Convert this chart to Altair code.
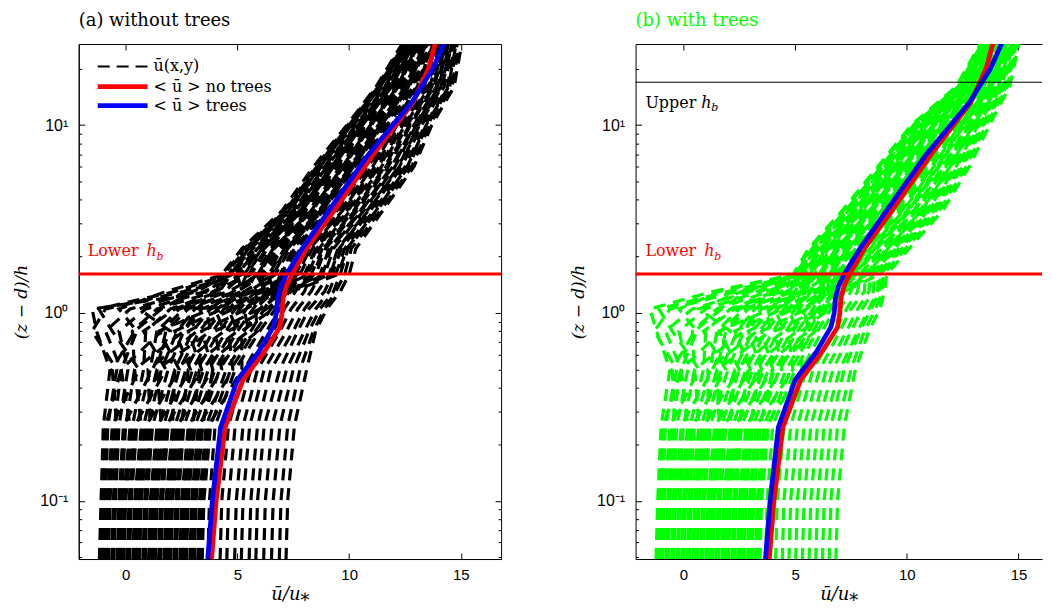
import altair as alt
import pandas as pd

# ---------------- data ----------------
Z_LEVELS = [0.038, 0.1, 0.25, 0.5, 0.8, 1.05, 1.3, 1.6, 2.2, 3.5, 6, 10, 16, 30]

PROFILES_A = [
    [-1.2, -1.1, -1.0, -0.7, -1.3, -1.5, 3.8, 4.3, 5.2, 7.0, 8.4, 9.9, 11.2, 12.6],
    [-1.0, -0.9, -0.8, -0.4, -1.5, -0.9, 2.6, 4.8, 5.7, 7.5, 8.9, 10.3, 11.6, 12.9],
    [-0.8, -0.7, -0.5, -0.2, -0.9, 0.2, 3.2, 4.5, 5.35, 7.15, 8.55, 10.0, 11.3, 12.7],
    [-0.55, -0.45, -0.3, 0.1, -0.3, 0.9, 3.6, 5.2, 6.05, 7.75, 9.15, 10.5, 11.8, 13.0],
    [-0.3, -0.2, 0.0, 0.4, 0.3, 1.4, 4.0, 5.6, 6.35, 8.05, 9.45, 10.75, 12.0, 13.15],
    [-0.1, 0.0, 0.3, 0.8, 0.9, 2.0, 4.2, 4.7, 5.5, 7.3, 8.7, 10.1, 11.4, 12.8],
    [0.15, 0.25, 0.5, 1.1, 1.4, 2.4, 4.6, 5.95, 6.65, 8.35, 9.75, 11.0, 12.2, 13.3],
    [0.4, 0.5, 0.8, 1.4, 1.8, 2.8, 4.9, 6.3, 7.0, 8.6, 10.0, 11.25, 12.45, 13.5],
    [0.6, 0.7, 1.0, 1.6, 2.3, 3.1, 5.2, 5.0, 5.9, 7.6, 9.0, 10.4, 11.7, 12.9],
    [0.85, 0.95, 1.2, 1.9, 2.6, 3.4, 5.5, 6.7, 7.35, 8.85, 10.25, 11.5, 12.7, 13.65],
    [1.1, 1.2, 1.5, 2.2, 3.0, 3.8, 5.7, 7.05, 7.65, 9.15, 10.55, 11.75, 12.9, 13.8],
    [1.3, 1.4, 1.7, 2.4, 3.3, 4.1, 5.1, 5.4, 6.2, 7.9, 9.3, 10.6, 11.9, 13.1],
    [1.55, 1.65, 1.9, 2.7, 3.6, 4.4, 6.0, 7.4, 8.0, 9.45, 10.85, 12.0, 13.1, 13.95],
    [1.8, 1.9, 2.2, 3.0, 3.9, 4.6, 5.4, 5.8, 6.5, 8.2, 9.6, 10.9, 12.1, 13.2],
    [2.0, 2.1, 2.4, 3.2, 4.2, 4.9, 6.3, 7.8, 8.35, 9.75, 11.15, 12.25, 13.35, 14.1],
    [2.25, 2.35, 2.6, 3.5, 4.5, 5.1, 5.8, 6.1, 6.8, 8.5, 9.9, 11.1, 12.3, 13.4],
    [2.5, 2.6, 2.9, 3.7, 4.8, 5.4, 6.6, 8.15, 8.65, 10.05, 11.45, 12.5, 13.6, 14.3],
    [2.7, 2.8, 3.1, 4.0, 5.0, 5.7, 6.3, 6.5, 7.2, 8.7, 10.1, 11.4, 12.6, 13.6],
    [2.95, 3.05, 3.35, 4.2, 5.3, 6.0, 6.9, 8.5, 8.95, 10.35, 11.75, 12.75, 13.8, 14.45],
    [3.2, 3.3, 3.6, 4.5, 5.6, 6.2, 6.7, 6.9, 7.5, 9.0, 10.4, 11.6, 12.8, 13.7],
    [3.4, 3.5, 3.8, 4.7, 5.8, 6.5, 7.2, 8.9, 9.3, 10.65, 12.05, 13.0, 14.0, 14.6],
    [3.65, 3.75, 4.0, 4.9, 6.0, 6.7, 7.0, 7.2, 7.8, 9.3, 10.7, 11.9, 13.0, 13.9],
    [4.2, 4.3, 4.6, 5.3, 6.3, 6.9, 7.3, 7.6, 8.2, 9.6, 11.0, 12.1, 13.2, 14.0],
    [4.5, 4.6, 4.9, 5.6, 6.6, 7.1, 7.6, 8.0, 8.5, 9.9, 11.3, 12.4, 13.5, 14.2],
    [4.85, 4.95, 5.25, 5.9, 6.9, 7.4, 8.0, 8.3, 8.8, 10.2, 11.6, 12.6, 13.7, 14.4],
    [5.15, 5.25, 5.55, 6.2, 7.2, 7.7, 8.3, 8.7, 9.1, 10.5, 11.9, 12.9, 13.9, 14.5],
    [5.5, 5.6, 5.9, 6.5, 7.5, 8.0, 8.6, 9.1, 9.5, 10.8, 12.2, 13.1, 14.1, 14.7],
    [5.8, 5.9, 6.2, 6.9, 7.7, 8.2, 8.9, 9.25, 9.65, 10.95, 12.35, 13.25, 14.25, 14.75],
    [6.15, 6.25, 6.55, 7.2, 8.0, 8.5, 9.1, 9.4, 9.8, 11.1, 12.5, 13.4, 14.4, 14.8],
    [6.5, 6.6, 6.9, 7.5, 8.2, 8.7, 9.3, 9.6, 9.95, 11.25, 12.65, 13.5, 14.5, 14.9],
    [6.85, 6.95, 7.25, 7.8, 8.4, 8.9, 9.4, 9.8, 10.1, 11.4, 12.8, 13.6, 14.6, 15.0],
    [7.15, 7.25, 7.55, 8.1, 8.5, 9.0, 9.6, 10.0, 10.3, 11.5, 12.9, 13.7, 14.7, 15.1],
    [-1.1, -1.0, -0.9, -0.2, 0.5, -0.3, 1.8, 4.4, 5.3, 7.1, 8.5, 9.95, 11.25, 12.65],
    [-0.9, -0.8, -0.6, 0.6, -0.6, -1.2, 2.2, 4.6, 5.45, 7.2, 8.6, 10.05, 11.35, 12.75],
    [-0.65, -0.55, -0.4, -0.6, 0.4, 1.6, 3.0, 4.75, 5.6, 7.35, 8.75, 10.2, 11.5, 12.8],
    [-0.4, -0.3, -0.1, 1.2, 2.0, 0.6, 2.8, 4.95, 5.8, 7.5, 8.9, 10.35, 11.6, 12.9],
    [-0.2, -0.1, 0.2, -0.2, 1.6, 2.6, 3.5, 5.1, 5.95, 7.65, 9.05, 10.45, 11.75, 13.0],
    [0.05, 0.15, 0.4, 1.8, 0.8, 2.2, 4.4, 5.3, 6.1, 7.8, 9.2, 10.55, 11.85, 13.05],
    [0.3, 0.4, 0.7, 0.4, 2.6, 3.2, 3.9, 5.5, 6.3, 7.95, 9.35, 10.7, 11.95, 13.1],
    [0.5, 0.6, 0.9, 2.4, 1.5, 3.8, 4.8, 5.9, 6.6, 8.3, 9.7, 10.95, 12.15, 13.25],
    [0.75, 0.85, 1.1, 1.0, 3.2, 2.6, 5.0, 6.2, 6.9, 8.55, 9.95, 11.2, 12.4, 13.45],
    [1.0, 1.1, 1.4, 2.9, 2.2, 4.3, 5.3, 6.6, 7.25, 8.8, 10.2, 11.45, 12.65, 13.6],
    [1.2, 1.3, 1.6, 1.4, 3.8, 3.6, 5.6, 6.95, 7.55, 9.1, 10.5, 11.7, 12.85, 13.75],
    [1.45, 1.55, 1.8, 3.4, 2.8, 4.8, 5.9, 7.3, 7.9, 9.4, 10.8, 11.95, 13.05, 13.9],
    [1.7, 1.8, 2.1, 2.2, 4.4, 4.0, 6.2, 7.7, 8.25, 9.7, 11.05, 12.15, 13.3, 14.05],
    [1.9, 2.0, 2.3, 3.9, 3.4, 5.4, 6.5, 8.05, 8.55, 9.95, 11.35, 12.45, 13.55, 14.25],
    [2.15, 2.25, 2.5, 2.8, 5.0, 4.6, 6.8, 8.4, 8.85, 10.25, 11.65, 12.7, 13.75, 14.4],
    [2.4, 2.5, 2.8, 4.3, 4.0, 6.0, 7.1, 8.8, 9.2, 10.55, 11.95, 12.95, 13.95, 14.55],
    [2.6, 2.7, 3.0, 3.3, 5.5, 5.3, 6.4, 6.05, 6.75, 8.4, 9.8, 11.05, 12.25, 13.35],
    [2.85, 2.95, 3.25, 4.8, 4.6, 6.3, 7.3, 9.15, 9.55, 10.85, 12.25, 13.15, 14.15, 14.7],
    [3.05, 3.15, 3.45, 3.9, 5.9, 5.8, 6.6, 6.4, 7.1, 8.65, 10.05, 11.3, 12.5, 13.55],
    [3.3, 3.4, 3.7, 5.2, 5.2, 6.6, 7.4, 9.5, 9.9, 11.2, 12.6, 13.45, 14.45, 14.85],
]

PROFILES_B = [
    [-1.25, -1.15, -1.0, -0.6, -1.2, -1.5, 1.3, 4.9, 5.6, 7.1, 8.7, 10.2, 12.2, 13.5],
    [-1.05, -0.95, -0.8, -0.3, -1.3, -0.6, 2.4, 5.3, 6.05, 7.55, 9.1, 10.55, 12.45, 13.65],
    [-0.8, -0.7, -0.5, -0.1, -0.8, 0.4, 3.0, 5.0, 5.75, 7.25, 8.85, 10.3, 12.3, 13.55],
    [-0.55, -0.45, -0.3, 0.2, -0.2, 1.0, 3.4, 5.6, 6.35, 7.85, 9.35, 10.75, 12.6, 13.75],
    [-0.3, -0.2, 0.0, 0.5, 0.4, 1.5, 3.8, 5.85, 6.6, 8.1, 9.6, 11.0, 12.75, 13.85],
    [-0.1, 0.0, 0.3, 0.9, 1.0, 2.1, 4.1, 5.2, 5.9, 7.4, 9.0, 10.4, 12.35, 13.6],
    [0.15, 0.25, 0.5, 1.2, 1.5, 2.5, 4.4, 6.1, 6.9, 8.4, 9.9, 11.2, 12.9, 13.95],
    [0.4, 0.5, 0.8, 1.5, 1.9, 2.9, 4.7, 6.4, 7.2, 8.7, 10.15, 11.45, 13.05, 14.05],
    [0.6, 0.7, 1.0, 1.7, 2.4, 3.2, 5.0, 5.45, 6.2, 7.7, 9.25, 10.65, 12.5, 13.7],
    [0.85, 0.95, 1.2, 2.0, 2.7, 3.5, 5.3, 6.65, 7.5, 9.0, 10.4, 11.7, 13.2, 14.15],
    [1.1, 1.2, 1.5, 2.3, 3.1, 3.9, 5.6, 6.95, 7.8, 9.3, 10.7, 11.9, 13.35, 14.25],
    [1.3, 1.4, 1.7, 2.5, 3.4, 4.2, 5.0, 5.7, 6.5, 8.0, 9.5, 10.9, 12.65, 13.8],
    [1.55, 1.65, 1.9, 2.8, 3.7, 4.5, 5.9, 7.2, 8.05, 9.55, 10.95, 12.1, 13.5, 14.4],
    [1.8, 1.9, 2.2, 3.1, 4.0, 4.7, 5.3, 6.0, 6.75, 8.25, 9.75, 11.1, 12.8, 13.9],
    [2.0, 2.1, 2.4, 3.3, 4.3, 5.0, 6.2, 7.45, 8.35, 9.85, 11.2, 12.35, 13.65, 14.5],
    [2.25, 2.35, 2.6, 3.6, 4.6, 5.2, 5.7, 6.25, 7.05, 8.55, 10.0, 11.35, 12.95, 14.0],
    [2.5, 2.6, 2.9, 3.8, 4.9, 5.5, 6.5, 7.75, 8.65, 10.15, 11.45, 12.55, 13.8, 14.6],
    [2.7, 2.8, 3.1, 4.1, 5.1, 5.8, 6.2, 6.5, 7.35, 8.85, 10.3, 11.55, 13.1, 14.1],
    [2.95, 3.05, 3.35, 4.3, 5.4, 6.0, 6.8, 8.0, 8.95, 10.45, 11.75, 12.8, 13.95, 14.7],
    [3.2, 3.3, 3.6, 4.6, 5.6, 6.2, 6.6, 6.8, 7.65, 9.15, 10.55, 11.8, 13.3, 14.2],
    [3.4, 3.5, 3.8, 4.8, 5.8, 6.4, 7.1, 8.3, 9.25, 10.75, 12.0, 13.0, 14.1, 14.8],
    [3.65, 3.75, 4.0, 5.0, 6.0, 6.6, 6.9, 7.05, 7.9, 9.4, 10.8, 12.0, 13.45, 14.3],
    [4.1, 4.2, 4.5, 5.3, 6.2, 6.8, 7.2, 7.35, 8.2, 9.7, 11.1, 12.25, 13.6, 14.45],
    [4.4, 4.5, 4.8, 5.5, 6.5, 7.0, 7.5, 7.6, 8.5, 10.0, 11.35, 12.45, 13.75, 14.55],
    [4.7, 4.8, 5.1, 5.8, 6.8, 7.3, 7.8, 7.9, 8.8, 10.3, 11.6, 12.7, 13.9, 14.65],
    [5.0, 5.1, 5.4, 6.1, 7.0, 7.5, 8.1, 8.15, 9.1, 10.6, 11.85, 12.9, 14.05, 14.75],
    [5.3, 5.4, 5.7, 6.4, 7.3, 7.8, 8.3, 8.4, 9.4, 10.9, 12.15, 13.1, 14.2, 14.85],
    [5.6, 5.7, 6.0, 6.7, 7.5, 8.0, 8.5, 8.55, 9.5, 11.0, 12.25, 13.25, 14.3, 14.9],
    [5.9, 6.0, 6.3, 7.0, 7.8, 8.3, 8.7, 8.7, 9.65, 11.15, 12.4, 13.35, 14.35, 14.95],
    [6.2, 6.3, 6.6, 7.2, 7.9, 8.4, 8.8, 8.8, 9.8, 11.3, 12.5, 13.45, 14.45, 15.0],
    [6.5, 6.6, 6.9, 7.5, 8.1, 8.6, 8.9, 8.95, 9.95, 11.45, 12.65, 13.55, 14.5, 15.05],
    [6.8, 6.9, 7.2, 7.7, 8.3, 8.8, 9.0, 9.1, 10.1, 11.6, 12.8, 13.7, 14.6, 15.1],
    [-1.15, -1.05, -0.9, -0.1, 0.6, -0.2, 1.6, 4.97, 5.67, 7.17, 8.77, 10.26, 12.24, 13.53],
    [-0.95, -0.85, -0.6, 0.7, -0.5, -1.1, 2.0, 5.1, 5.82, 7.32, 8.9, 10.37, 12.32, 13.58],
    [-0.7, -0.6, -0.4, -0.5, 0.5, 1.7, 2.8, 5.24, 5.96, 7.46, 9.03, 10.48, 12.39, 13.63],
    [-0.45, -0.35, -0.1, 1.3, 2.1, 0.7, 2.6, 5.37, 6.11, 7.61, 9.16, 10.6, 12.47, 13.68],
    [-0.25, -0.15, 0.2, -0.1, 1.7, 2.7, 3.3, 5.51, 6.25, 7.75, 9.29, 10.71, 12.55, 13.73],
    [0.0, 0.1, 0.4, 1.9, 0.9, 2.3, 4.2, 5.64, 6.4, 7.9, 9.43, 10.82, 12.62, 13.79],
    [0.25, 0.35, 0.7, 0.5, 2.7, 3.3, 3.7, 5.78, 6.54, 8.04, 9.56, 10.93, 12.7, 13.84],
    [0.5, 0.6, 0.9, 2.5, 1.6, 3.9, 4.6, 6.05, 6.83, 8.33, 9.82, 11.16, 12.85, 13.94],
    [0.75, 0.85, 1.1, 1.1, 3.3, 2.7, 4.9, 6.32, 7.12, 8.62, 10.09, 11.39, 13.01, 14.05],
    [1.0, 1.1, 1.4, 3.0, 2.3, 4.4, 5.2, 6.59, 7.41, 8.91, 10.35, 11.61, 13.16, 14.15],
    [1.2, 1.3, 1.6, 1.5, 3.9, 3.7, 5.5, 6.86, 7.7, 9.2, 10.61, 11.84, 13.32, 14.25],
    [1.45, 1.55, 1.8, 3.5, 2.9, 4.9, 5.8, 7.13, 7.99, 9.49, 10.88, 12.06, 13.47, 14.36],
    [1.7, 1.8, 2.1, 2.3, 4.5, 4.1, 6.1, 7.4, 8.28, 9.78, 11.14, 12.29, 13.62, 14.46],
    [1.9, 2.0, 2.3, 4.0, 3.5, 5.5, 6.4, 7.67, 8.57, 10.07, 11.41, 12.52, 13.78, 14.57],
    [2.15, 2.25, 2.5, 2.9, 5.1, 4.7, 6.6, 7.94, 8.86, 10.36, 11.67, 12.74, 13.93, 14.67],
    [2.4, 2.5, 2.8, 4.4, 4.1, 6.1, 6.9, 8.21, 9.15, 10.65, 11.93, 12.97, 14.09, 14.77],
    [2.6, 2.7, 3.0, 3.4, 5.6, 5.4, 6.3, 6.18, 6.98, 8.48, 9.95, 11.27, 12.93, 13.99],
    [2.85, 2.95, 3.25, 4.9, 4.7, 6.3, 7.1, 8.48, 9.44, 10.94, 12.2, 13.19, 14.24, 14.88],
    [3.05, 3.15, 3.45, 4.0, 5.9, 5.8, 6.5, 6.45, 7.27, 8.77, 10.22, 11.5, 13.09, 14.1],
    [3.3, 3.4, 3.7, 5.3, 5.3, 6.5, 7.2, 8.75, 9.73, 11.23, 12.46, 13.42, 14.39, 14.98],
]

Z_MEAN = [0.038, 0.1, 0.246, 0.44, 0.62, 0.84, 1.0, 1.2, 1.4, 1.61, 2.2, 3.46, 6.94, 13.2, 20, 30]
U_NO_TREES = [3.77, 4.05, 4.45, 5.25, 6.2, 6.9, 7.0, 7.05, 7.2, 7.45, 8.1, 9.3, 11.07, 12.86, 13.55, 13.95]
U_TREES = [3.6, 3.88, 4.25, 5.0, 5.95, 6.6, 6.75, 6.8, 6.95, 7.2, 7.9, 9.06, 10.85, 12.8, 13.75, 14.4]

LOWER_HB = 1.61
UPPER_HB = 16.9

X_TICKS = [0, 5, 10, 15]
Y_TICKS = [0.05, 0.06, 0.07, 0.08, 0.09, 0.1, 0.2, 0.3, 0.4, 0.5, 0.6, 0.7, 0.8, 0.9,
           1, 2, 3, 4, 5, 6, 7, 8, 9, 10, 20]

LEGEND_LABELS = ["ū(x,y)", "< ū > no trees", "< ū > trees"]
LEGEND_Z = [20.5, 16.0, 12.7]
LEGEND_U0 = -1.25
LEGEND_U1 = 0.98
LEGEND_TEXT_U = 1.25

LABEL_U = -1.7
LOWER_LABEL_Z = 2.0
UPPER_LABEL_Z = 12.4

# ---------------- styling ----------------
SERIF = "DejaVu Serif"
SANS = "Liberation Sans"
GREEN = "#00ff00"
W_A, W_B, H = 424, 408, 517
XDOM_A = [-2.1, 16.8]
XDOM_B = [-2.14, 16.05]
YDOM = [0.049, 27]
DASH = [12, 8]
PROFILE_WIDTH = 3.2

MAJOR_TEST = "datum.value == 0.1 || datum.value == 1 || datum.value == 10"
LABEL_EXPR = ("datum.value == 0.1 ? '10⁻¹' : datum.value == 1 ? '10⁰' : "
              "datum.value == 10 ? '10¹' : ''")


def y_axis(major_dash, minor_dash):
    return alt.Axis(
        values=Y_TICKS, labelExpr=LABEL_EXPR, labelFont=SANS, labelFontSize=16,
        labelColor="black", labelPadding=11, labelOverlap=False, ticks=False,
        domain=True, domainColor="black", domainWidth=1,
        grid=True, gridColor="black", gridOpacity=1, gridWidth=1,
        gridDash={"condition": {"test": MAJOR_TEST, "value": major_dash}, "value": minor_dash},
        title="(z − d)/h", titleFont=SERIF, titleFontSize=17, titleFontStyle="italic",
        titleFontWeight="normal", titleColor="black", titlePadding=9,
    )


def x_axis():
    return alt.Axis(
        values=X_TICKS, format="d", labelFont=SANS, labelFontSize=15, labelColor="black",
        labelPadding=9, ticks=False, domain=True, domainColor="black", domainWidth=1,
        grid=True, gridColor="black", gridOpacity=1, gridWidth=1, gridDash=[6, H - 12],
        title="ū/u⁎", titleFont=SERIF, titleFontSize=18, titleFontStyle="italic",
        titleFontWeight="normal", titleColor="black", titlePadding=3,
    )


def profile_frame(profiles):
    rows = []
    for pid, prof in enumerate(profiles):
        for k, (z, u) in enumerate(zip(Z_LEVELS, prof)):
            rows.append({"pid": pid, "k": k, "z": z, "u": u})
    return pd.DataFrame(rows)


def mean_frame(values):
    return pd.DataFrame({"z": Z_MEAN, "u": values, "k": list(range(len(Z_MEAN)))})


def hb_labels(word, z, color, dx_h, dx_b, xenc, yenc):
    df = pd.DataFrame({"u": [LABEL_U], "z": [z]})
    base = alt.Chart(df)
    t1 = base.mark_text(text=word, align="left", baseline="alphabetic", font=SERIF,
                        fontSize=16, color=color).encode(x=xenc, y=yenc)
    t2 = base.mark_text(text="h", align="left", baseline="alphabetic", font=SERIF,
                        fontSize=16, fontStyle="italic", color=color, dx=dx_h).encode(x=xenc, y=yenc)
    t3 = base.mark_text(text="b", align="left", baseline="alphabetic", font=SERIF,
                        fontSize=11, fontStyle="italic", color=color, dx=dx_b, dy=4).encode(x=xenc, y=yenc)
    return [t1, t2, t3]


# ---------------- panel (a) ----------------
xs_a = alt.Scale(domain=XDOM_A, nice=False, zero=False)
ys = alt.Scale(type="log", domain=YDOM, nice=False)
xa = alt.X("u:Q", scale=xs_a, axis=x_axis())
ya = alt.Y("z:Q", scale=ys, axis=y_axis([6, W_A - 12], [3, W_A - 6]))

lines_a = alt.Chart(profile_frame(PROFILES_A)).mark_line(
    color="black", strokeWidth=PROFILE_WIDTH, strokeDash=DASH, clip=True
).encode(x=xa, y=ya, detail="pid:N", order="k:Q")
red_a = alt.Chart(mean_frame(U_NO_TREES)).mark_line(color="#ff0000", strokeWidth=4.8, clip=True).encode(
    x=xa, y=ya, order="k:Q")
blue_a = alt.Chart(mean_frame(U_TREES)).mark_line(color="#0000ff", strokeWidth=4.8, clip=True).encode(
    x=xa, y=ya, order="k:Q")
lower_a = alt.Chart(pd.DataFrame({"z": [LOWER_HB]})).mark_rule(color="#ff0000", strokeWidth=3).encode(y=ya)

leg_df = pd.DataFrame({"u": [LEGEND_U0] * 3, "u2": [LEGEND_U1] * 3, "z": LEGEND_Z,
                       "tu": [LEGEND_TEXT_U] * 3, "label": LEGEND_LABELS})
leg_dash = alt.Chart(leg_df.iloc[[0]]).mark_rule(color="black", strokeWidth=2, strokeDash=[12, 7]).encode(
    x=xa, x2="u2:Q", y=ya)
leg_red = alt.Chart(leg_df.iloc[[1]]).mark_rule(color="#ff0000", strokeWidth=4.8).encode(x=xa, x2="u2:Q", y=ya)
leg_blue = alt.Chart(leg_df.iloc[[2]]).mark_rule(color="#0000ff", strokeWidth=4.8).encode(x=xa, x2="u2:Q", y=ya)
leg_text = alt.Chart(leg_df).mark_text(align="left", baseline="middle", font=SERIF, fontSize=16,
                                       color="black").encode(
    x=alt.X("tu:Q", scale=xs_a), y=ya, text="label:N")

panel_a = alt.layer(
    lines_a, red_a, blue_a, lower_a, leg_dash, leg_red, leg_blue, leg_text,
    *hb_labels("Lower", LOWER_LABEL_Z, "#ff0000", 59, 69, xa, ya),
).properties(
    width=W_A, height=H,
    view=alt.ViewBackground(stroke="black", strokeWidth=1),
    title=alt.TitleParams("(a) without trees", anchor="start", frame="group", font=SERIF,
                          fontSize=18, fontWeight="normal", color="black", offset=14),
)

# ---------------- panel (b) ----------------
xs_b = alt.Scale(domain=XDOM_B, nice=False, zero=False)
xb_main = alt.X("u:Q", scale=xs_b, axis=x_axis())
xb_none = alt.X("u:Q", scale=xs_b, axis=None)
xb_top = alt.X("u:Q", scale=xs_b, axis=alt.Axis(orient="top", labels=False, ticks=False, grid=False,
                                                   domain=True, domainColor="black", domainWidth=1,
                                                   title=None))
yb = alt.Y("z:Q", scale=ys, axis=y_axis([6, 4000], [3, 4000]))

lines_b = alt.Chart(profile_frame(PROFILES_B)).mark_line(
    color=GREEN, strokeWidth=PROFILE_WIDTH, strokeDash=DASH, clip=True
).encode(x=xb_main, y=yb, detail="pid:N", order="k:Q")
red_b = alt.Chart(mean_frame(U_NO_TREES)).mark_line(color="#ff0000", strokeWidth=4.8, clip=True).encode(
    x=xb_top, y=yb, order="k:Q")
blue_b = alt.Chart(mean_frame(U_TREES)).mark_line(color="#0000ff", strokeWidth=4.8, clip=True).encode(
    x=xb_none, y=yb, order="k:Q")
lower_b = alt.Chart(pd.DataFrame({"z": [LOWER_HB]})).mark_rule(color="#ff0000", strokeWidth=3).encode(y=yb)
upper_b = alt.Chart(pd.DataFrame({"z": [UPPER_HB]})).mark_rule(color="black", strokeWidth=1).encode(y=yb)

panel_b = alt.layer(
    lines_b, red_b, blue_b, lower_b, upper_b,
    *hb_labels("Lower", LOWER_LABEL_Z, "#ff0000", 59, 69, xb_none, yb),
    *hb_labels("Upper", UPPER_LABEL_Z, "black", 56, 66, xb_none, yb),
).resolve_axis(x="independent").properties(
    width=W_B, height=H,
    title=alt.TitleParams("(b) with trees", anchor="start", frame="group", font=SERIF,
                          fontSize=18, fontWeight="normal", color=GREEN, offset=14),
)

chart = alt.hconcat(panel_a, panel_b, spacing=66).properties(
    padding={"left": 4, "top": 2, "right": 0, "bottom": 0},
    background="white",
).configure_view(stroke="transparent")

chart.save("out.html", embed_options={"renderer": "svg", "actions": False})
